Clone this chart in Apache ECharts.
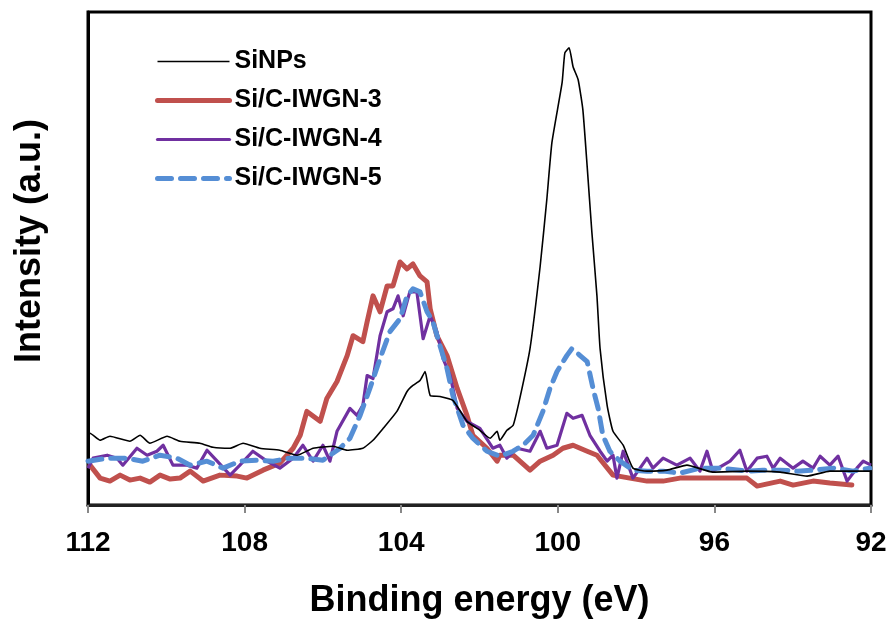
<!DOCTYPE html>
<html>
<head>
<meta charset="utf-8">
<script src="https://cdn.jsdelivr.net/npm/echarts@6/dist/echarts.min.js"></script>
<style>html,body{margin:0;padding:0;background:#fff}#c{width:891px;height:624px}</style>
</head>
<body>
<div id="c"></div>
<script>
const xTicks = [112, 108, 104, 100, 96, 92];
const seriesNames = ['SiNPs', 'Si/C-IWGN-3', 'Si/C-IWGN-4', 'Si/C-IWGN-5'];

const siNPs = [[112.0,70],[111.95,72],[111.69,65],[111.44,69],[110.93,64],[110.67,70],[110.42,62],[109.98,69],[109.65,64],[109.14,62],[108.81,58],[108.37,57],[108.04,62],[107.61,57],[107.10,55],[106.66,50],[106.25,57],[105.74,59],[105.38,55],[104.98,57],[104.72,65],[104.46,77],[104.11,94],[103.85,114],[103.70,120],[103.52,125],[103.39,134],[103.26,110],[103.01,109],[102.68,105],[102.32,84],[101.99,75],[101.73,67],[101.55,74],[101.48,65],[101.30,75],[101.14,80],[100.97,107],[100.71,157],[100.45,240],[100.28,307],[100.15,364],[99.89,424],[99.82,454],[99.71,459],[99.61,440],[99.48,427],[99.36,397],[99.25,340],[99.13,274],[99.00,210],[98.92,157],[98.74,100],[98.59,74],[98.33,60],[98.08,37],[97.72,34],[97.21,35],[96.70,40],[96.04,33],[95.17,34],[94.32,33],[93.63,29],[93.05,34],[92.0,34]];

const iwgn3 = [[111.95,40],[111.69,27],[111.44,24],[111.18,30],[110.93,25],[110.67,27],[110.42,23],[110.16,30],[109.9,26],[109.65,27],[109.39,34],[109.06,24],[108.63,30],[108.19,29],[107.94,27],[107.53,35],[107.10,42],[106.76,57],[106.58,70],[106.41,94],[106.07,84],[105.90,107],[105.64,124],[105.38,150],[105.23,170],[104.98,164],[104.87,184],[104.72,210],[104.54,194],[104.36,220],[104.21,220],[104.03,244],[103.85,237],[103.70,242],[103.52,230],[103.34,224],[103.26,197],[103.09,170],[102.83,150],[102.57,117],[102.32,90],[102.17,70],[101.81,57],[101.55,44],[101.48,50],[101.14,50],[100.71,35],[100.45,44],[100.12,50],[99.87,57],[99.61,60],[99.25,54],[99.00,50],[98.59,30],[98.16,27],[97.72,24],[97.31,24],[96.88,27],[96.04,27],[95.17,27],[94.91,19],[94.32,24],[93.99,20],[93.48,24],[93.05,22],[92.49,20]];

const iwgn4 = [[112.00,37],[111.87,47],[111.51,50],[111.26,47],[111.11,40],[110.75,57],[110.49,50],[110.24,54],[110.08,60],[109.83,40],[109.47,40],[109.22,37],[108.96,55],[108.70,44],[108.37,30],[108.12,40],[107.79,54],[107.43,44],[107.10,37],[106.76,47],[106.51,60],[106.25,44],[106.00,60],[105.82,44],[105.64,74],[105.31,97],[105.13,90],[104.98,100],[104.87,130],[104.72,127],[104.54,170],[104.36,194],[104.21,197],[104.08,210],[103.95,190],[103.78,214],[103.60,214],[103.44,167],[103.26,190],[103.09,174],[102.93,147],[102.75,130],[102.57,97],[102.32,84],[101.99,77],[101.66,57],[101.48,60],[101.30,47],[101.04,57],[100.71,54],[100.45,74],[100.28,57],[100.02,60],[99.77,92],[99.61,87],[99.38,90],[99.18,70],[98.92,54],[98.74,44],[98.59,50],[98.49,27],[98.33,54],[98.08,27],[97.72,47],[97.57,37],[97.31,47],[96.96,40],[96.62,47],[96.37,34],[96.19,54],[96.04,34],[95.60,44],[95.35,55],[95.17,34],[94.91,47],[94.66,49],[94.50,37],[94.32,47],[93.99,37],[93.74,44],[93.48,37],[93.30,49],[93.05,40],[92.84,49],[92.61,24],[92.36,37],[92.20,44],[92.00,40]];

const iwgn5 = [[112.00,44],[111.51,47],[111.00,47],[110.60,44],[110.16,50],[109.73,47],[109.39,40],[108.96,44],[108.55,37],[108.12,44],[107.68,45],[107.27,44],[106.84,47],[106.41,47],[106.00,45],[105.56,57],[105.31,67],[105.05,90],[104.80,117],[104.54,147],[104.29,174],[104.03,187],[103.85,210],[103.70,217],[103.52,214],[103.34,194],[103.19,184],[103.01,160],[102.83,137],[102.68,110],[102.42,80],[102.17,67],[101.81,54],[101.48,49],[101.14,54],[100.89,60],[100.63,70],[100.38,94],[100.20,117],[100.02,134],[99.77,150],[99.64,157],[99.43,150],[99.25,144],[99.10,117],[98.97,97],[98.85,70],[98.67,54],[98.41,44],[98.08,35],[97.72,34],[97.31,34],[96.88,32],[96.37,37],[95.86,37],[95.17,34],[94.76,35],[94.32,35],[93.89,34],[93.48,35],[92.97,37],[92.46,34],[92.03,37]];

const FONT = '"Liberation Sans", Arial, sans-serif';
const colors = ['#000000', '#C0504D', '#7030A0', '#558ED5'];
const widths = [1.6, 5, 3.2, 5];
const hidden = {color: 'transparent', borderWidth: 0, opacity: 0};
const chart = echarts.init(document.getElementById('c'), null, {renderer: 'canvas'});
chart.setOption({
  animation: false,
  backgroundColor: '#fff',
  grid: {left: 88, right: 20, top: 12, bottom: 117, show: true, borderColor: '#000', borderWidth: 3, backgroundColor: 'transparent'},
  legend: {
    orient: 'vertical', left: 155, top: 49, padding: 0,
    itemWidth: 72, itemHeight: 14, itemGap: 14,
    itemStyle: hidden,
    data: [
      {name: seriesNames[0], itemStyle: hidden, lineStyle: {color: colors[0], width: 1.6}},
      {name: seriesNames[1], itemStyle: hidden, lineStyle: {color: colors[1], width: 5, cap: 'round'}},
      {name: seriesNames[2], itemStyle: hidden, lineStyle: {color: colors[2], width: 3.2, cap: 'round'}},
      {name: seriesNames[3], itemStyle: hidden, lineStyle: {color: colors[3], width: 5, type: [14, 9], cap: 'round'}}
    ],
    textStyle: {fontFamily: FONT, fontWeight: 'bold', fontSize: 25, color: '#000', lineHeight: 24}
  },
  xAxis: {
    type: 'value', inverse: true, min: 92, max: 112, interval: 4,
    axisLine: {show: true, lineStyle: {color: '#222', width: 3}},
    axisTick: {show: true, length: 8, lineStyle: {color: '#888', width: 2}},
    splitLine: {show: false},
    axisLabel: {margin: 24, fontFamily: FONT, fontWeight: 'bold', fontSize: 28, color: '#000',
      formatter: v => xTicks.indexOf(v) >= 0 ? String(v) : ''},
    name: 'Binding energy (eV)', nameLocation: 'middle', nameGap: 78,
    nameTextStyle: {fontFamily: FONT, fontWeight: 'bold', fontSize: 36, color: '#000'}
  },
  yAxis: {
    type: 'value', min: 0, max: 495,
    axisLine: {show: true, lineStyle: {color: '#000', width: 3}},
    axisTick: {show: false}, axisLabel: {show: false}, splitLine: {show: false}
  },
  graphic: [{
    type: 'text', x: 30, y: 241, rotation: Math.PI / 2,
    style: {text: 'Intensity (a.u.)', font: 'bold 36px "Liberation Sans", Arial, sans-serif', fill: '#000',
      align: 'center', verticalAlign: 'middle'}
  }],
  series: [
    {name: 'SiNPs', type: 'line', data: siNPs, symbol: 'none', smooth: 0.15, z: 5,
      lineStyle: {color: colors[0], width: widths[0]}, itemStyle: {color: colors[0]}},
    {name: 'Si/C-IWGN-3', type: 'line', data: iwgn3, symbol: 'none', z: 2,
      lineStyle: {color: colors[1], width: widths[1], join: 'round', cap: 'round'}, itemStyle: {color: colors[1]}},
    {name: 'Si/C-IWGN-4', type: 'line', data: iwgn4, symbol: 'none', z: 3,
      lineStyle: {color: colors[2], width: widths[2], join: 'round'}, itemStyle: {color: colors[2]}},
    {name: 'Si/C-IWGN-5', type: 'line', data: iwgn5, symbol: 'none', z: 4,
      lineStyle: {color: colors[3], width: widths[3], type: [14, 9], cap: 'round', join: 'round'}, itemStyle: {color: colors[3]}}
  ]
});
</script>
</body>
</html>
